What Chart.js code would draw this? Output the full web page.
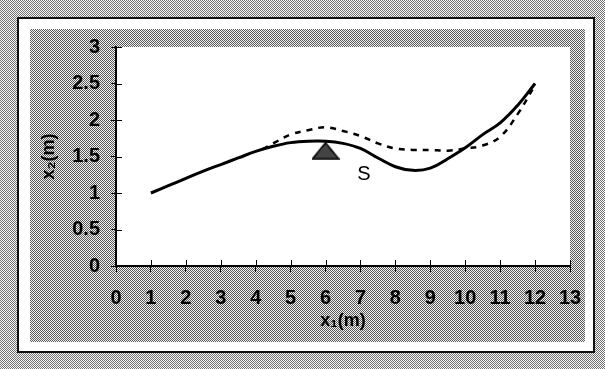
<!DOCTYPE html>
<html>
<head>
<meta charset="utf-8">
<script src="https://cdn.jsdelivr.net/npm/chart.js@4.4.1/dist/chart.umd.min.js"></script>
<style>
  html, body { margin: 0; padding: 0; background: #fff; }
  #wrap { width: 605px; height: 369px; }
</style>
</head>
<body>
<div id="wrap"><canvas id="profile" width="605" height="369"></canvas></div>
<script>
// profile curves, x1 in metres
const solidX = [1, 1.5, 2, 2.5, 3, 3.5, 4, 4.5, 5, 5.5, 6, 6.5, 7, 7.5, 8, 8.5, 9, 9.5, 10, 10.5, 11, 11.5, 12];
const solidY = [1.0, 1.1, 1.2, 1.3, 1.39, 1.48, 1.57, 1.64, 1.69, 1.71, 1.71, 1.68, 1.61, 1.48, 1.36, 1.31, 1.34, 1.47, 1.62, 1.8, 1.96, 2.2, 2.5];

const dashX = [4.2, 4.5, 5, 5.5, 6, 6.5, 7, 7.5, 8, 8.5, 9, 9.5, 10, 10.5, 11, 11.5, 12];
const dashY = [1.6, 1.68, 1.8, 1.86, 1.9, 1.85, 1.78, 1.68, 1.61, 1.59, 1.59, 1.58, 1.61, 1.65, 1.77, 2.08, 2.48];

// support (triangle) and the "S" note
const supportX = [6];
const supportY = [1.58];
const noteS = { x: 7.1, y: 1.25, text: "S" };

const xTicks = [0, 1, 2, 3, 4, 5, 6, 7, 8, 9, 10, 11, 12, 13];
const yTicks = ["0", "0.5", "1", "1.5", "2", "2.5", "3"];

const toPoints = (xs, ys) => xs.map((x, i) => ({ x: x, y: ys[i] }));

// stipple like the scanned print
function checker(dark, light) {
    const c = document.createElement("canvas");
    c.width = 2; c.height = 2;
    const g = c.getContext("2d");
    g.fillStyle = light; g.fillRect(0, 0, 2, 2);
    g.fillStyle = dark; g.fillRect(0, 0, 1, 1); g.fillRect(1, 1, 1, 1);
    return c;
}

function triangleIcon() {
    const c = document.createElement("canvas");
    c.width = 28; c.height = 18;
    const g = c.getContext("2d");
    g.beginPath();
    g.moveTo(1, 17); g.lineTo(14, 1); g.lineTo(27, 17); g.closePath();
    g.fillStyle = g.createPattern(checker("#111", "#777"), "repeat");
    g.fill();
    g.lineWidth = 1.5; g.strokeStyle = "#000"; g.stroke();
    return c;
}

const framePlugin = {
    id: "frame",
    beforeDraw(chart) {
        const ctx = chart.ctx;
        const a = chart.chartArea;
        ctx.save();
        ctx.fillStyle = ctx.createPattern(checker("#727272", "#f8f8f8"), "repeat");
        ctx.fillRect(0, 0, chart.width, chart.height);
        ctx.fillStyle = "#fff";
        ctx.fillRect(18, 18, 576, 334);
        ctx.strokeStyle = "#111";
        ctx.lineWidth = 2;
        ctx.strokeRect(18, 18, 576, 334);
        ctx.fillStyle = ctx.createPattern(checker("#5a5a5a", "#f2f2f2"), "repeat");
        ctx.fillRect(30, 29, 555, 313);
        ctx.fillStyle = "#fff";
        ctx.fillRect(a.left, a.top, a.right - a.left, a.bottom - a.top);
        ctx.restore();
    },
    afterDraw(chart) {
        const ctx = chart.ctx;
        const xs = chart.scales.x, ys = chart.scales.y;
        const a = chart.chartArea;
        ctx.save();
        ctx.strokeStyle = "#000";
        ctx.lineWidth = 1;
        // inner halves of the crossing ticks
        xs.ticks.forEach((t) => {
            const px = Math.round(xs.getPixelForValue(t.value)) + 0.5;
            ctx.beginPath(); ctx.moveTo(px, a.bottom); ctx.lineTo(px, a.bottom - 6); ctx.stroke();
        });
        ys.ticks.forEach((t) => {
            const py = Math.round(ys.getPixelForValue(t.value)) + 0.5;
            ctx.beginPath(); ctx.moveTo(a.left, py); ctx.lineTo(a.left + 6, py); ctx.stroke();
        });
        ctx.fillStyle = "#000";
        ctx.font = "20px 'Liberation Sans', Arial, sans-serif";
        ctx.textAlign = "center";
        ctx.textBaseline = "middle";
        ctx.fillText(noteS.text, xs.getPixelForValue(noteS.x), ys.getPixelForValue(noteS.y));
        ctx.restore();
    }
};

const tickFont = { family: "'Liberation Sans', Arial, sans-serif", size: 20, weight: "bold" };

new Chart(document.getElementById("profile"), {
    type: "scatter",
    data: {
        datasets: [
            {
                data: toPoints(solidX, solidY),
                showLine: true,
                borderColor: "#000",
                borderWidth: 3,
                tension: 0.4,
                pointRadius: 0
            },
            {
                data: toPoints(dashX, dashY),
                showLine: true,
                borderColor: "#000",
                borderWidth: 2.5,
                borderDash: [6, 6],
                tension: 0.4,
                pointRadius: 0
            },
            {
                data: toPoints(supportX, supportY),
                pointStyle: triangleIcon(),
                pointRadius: 10
            }
        ]
    },
    options: {
        responsive: false,
        devicePixelRatio: 1,
        animation: false,
        layout: { padding: { left: 30, right: 35, top: 47, bottom: 27 } },
        plugins: { legend: { display: false }, tooltip: { enabled: false } },
        scales: {
            x: {
                type: "linear",
                min: 0,
                max: 13,
                afterFit(scale) { scale.height = 76; },
                afterBuildTicks(scale) { scale.ticks = xTicks.map((v) => ({ value: v })); },
                border: { color: "#000", width: 2 },
                grid: { drawOnChartArea: false, color: "#000", tickLength: 6, tickWidth: 1 },
                ticks: { color: "#000", font: tickFont, padding: 14, maxRotation: 0, autoSkip: false },
                title: {
                    display: true,
                    text: "x\u2081(m)",
                    color: "#000",
                    font: { family: "'Liberation Sans', Arial, sans-serif", size: 18, weight: "bold" },
                    padding: { top: 0, bottom: 10 }
                }
            },
            y: {
                type: "linear",
                min: 0,
                max: 3,
                afterFit(scale) { scale.width = 86; },
                afterBuildTicks(scale) { scale.ticks = yTicks.map((v) => ({ value: parseFloat(v) })); },
                border: { color: "#000", width: 2 },
                grid: { drawOnChartArea: false, color: "#000", tickLength: 5, tickWidth: 1 },
                ticks: {
                    color: "#000",
                    font: tickFont,
                    padding: 11,
                    callback: (v) => yTicks.find((t) => parseFloat(t) === v)
                },
                title: {
                    display: true,
                    text: "x\u2082(m)",
                    color: "#000",
                    font: { family: "'Liberation Sans', Arial, sans-serif", size: 18, weight: "bold" },
                    padding: { top: 8, bottom: 0 }
                }
            }
        }
    },
    plugins: [framePlugin]
});
</script>
</body>
</html>
